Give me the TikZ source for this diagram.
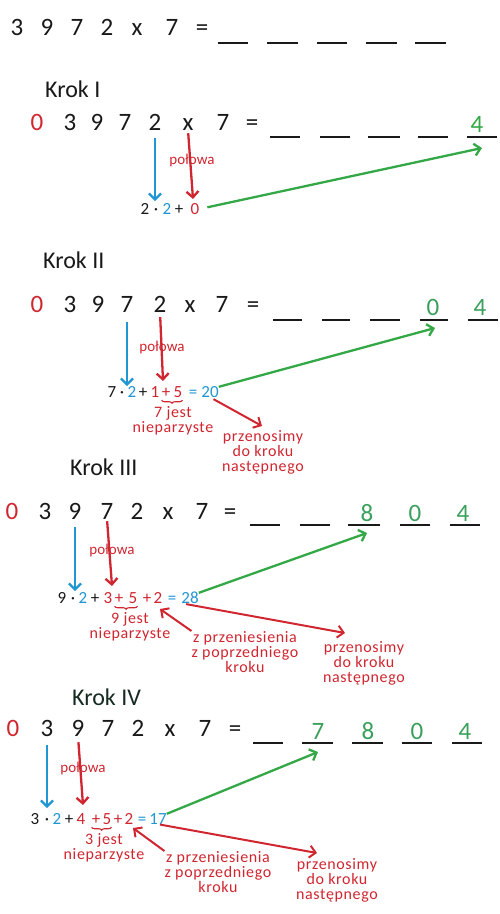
\documentclass[tikz,border=0pt]{standalone}
\usepackage{fontspec}
\setmainfont{Carlito}
\newfontfamily\lblfont[LetterSpace=4]{Carlito}
\usetikzlibrary{arrows.meta,decorations.pathreplacing}
\definecolor{ink}{RGB}{25,25,25}
\definecolor{inkg}{RGB}{22,42,32}
\definecolor{cred}{RGB}{208,38,48}
\definecolor{cblue}{RGB}{32,150,212}
\definecolor{cgreen}{RGB}{52,168,70}
\definecolor{cgdig}{RGB}{58,160,92}
\tikzset{
 dig/.style={inner sep=0pt, anchor=base, text height=16pt, text depth=0pt, text=ink, font=\fontsize{25}{28}\selectfont},
 gdig/.style={dig, text=cgdig},
 rdig/.style={dig, text=cred},
 ex/.style={inner sep=0pt, anchor=base, text height=10pt, text depth=0pt, text=ink, font=\fontsize{17}{19}\selectfont},
 exb/.style={ex, text=cblue},
 exr/.style={ex, text=cred},
 krok/.style={inner sep=0pt, anchor=base west, text=ink, font=\fontsize{24}{28}\selectfont},
 lbl/.style={inner sep=0pt, anchor=north, align=center, text=cred, font=\lblfont\fontsize{16}{15}\selectfont},
 pol/.style={inner sep=0pt, text=cred, font=\fontsize{15}{17}\selectfont},
 blankln/.style={draw=ink, line width=2.6pt},
 topblank/.style={draw=ink, line width=1.8pt},
 arr/.style={line width=2.3pt, -{Straight Barb[length=6pt,width=12pt]}},
 barr/.style={arr, draw=cblue},
 rarr/.style={arr, draw=cred},
 garr/.style={arr, draw=cgreen},
 rthin/.style={line width=2pt, draw=cred, -{Straight Barb[length=6pt,width=12pt]}},
 brc/.style={draw=cred, line width=1.1pt, decorate, decoration={brace, mirror, amplitude=3pt}}
}
\begin{document}
\begin{tikzpicture}[x=1pt,y=-1pt]
\fill[white] (0,0) rectangle (500,914);
\useasboundingbox (0,0) rectangle (500,914);

% ---------- top line ----------
\foreach \x/\t/\n in {17/3/ta,47/9/tb,77/7/tc,107/2/td,137/x/tx,172/7/tf,202/=/tq}
  \node[dig] (\n) at (\x,35) {\t};
\foreach \a/\b in {218/248,267/298,317/347,366/397,415/446}
  \draw[topblank] (\a,43) -- (\b,43);

% ---------- Krok I ----------
\node[krok] (k1) at (45,97) {Krok I};
\node[rdig] (r1a) at (37,130) {0};
\foreach \x/\t/\n in {70/3/r1b,97/9/r1c,125/7/r1d,155/2/r1e,188/x/r1x,223/7/r1f,252/=/r1q}
  \node[dig] (\n) at (\x,130) {\t};
\foreach \a/\b in {270/300,320/350,368/400,418/448,467/497}
  \draw[blankln] (\a,137) -- (\b,137);
\node[gdig, text=cgreen] (g1e) at (477,132) {4};
\node[pol] (h1) at (192,160) {połowa};
\node[ex] (e1a) at (145,214) {2};
\node[ex] (e1b) at (156,214) {·};
\node[exb] (e1c) at (167,214) {2};
\node[ex] (e1d) at (179,214) {+};
\node[exr] (e1e) at (195,214) {0};
\coordinate (t1b) at (155,201);
\coordinate (t1r) at (193,199);
\coordinate (t1g) at (482,148);
\draw[barr, shorten <=8pt] (r1e.south) -- (t1b);
\draw[rarr, shorten <=3pt] (r1x.south) -- (t1r);
\draw[garr, shorten <=8pt] (e1e.east) -- (t1g);

% ---------- Krok II ----------
\node[krok] (k2) at (43,268) {Krok II};
\node[rdig] (r2a) at (37,312) {0};
\foreach \x/\t/\n in {70/3/r2b,98/9/r2c,127/7/r2d,160/2/r2e,190/x/r2x,222/7/r2f,253/=/r2q}
  \node[dig] (\n) at (\x,312) {\t};
\foreach \a/\b in {273/302,322/350,370/400,420/448,468/498}
  \draw[blankln] (\a,320) -- (\b,320);
\node[gdig] (g2d) at (433,315) {0};
\node[gdig] (g2e) at (480,315) {4};
\node[pol] (h2) at (162,347) {połowa};
\node[ex] (e2a) at (112,397) {7};
\node[ex] (e2b) at (122,397) {·};
\node[exb] (e2c) at (132,397) {2};
\node[ex] (e2d) at (143,397) {+};
\node[exr] (e2e) at (155,397) {1};
\node[exr] (e2f) at (166,397) {+};
\node[exr] (e2g) at (178,397) {5};
\node[exb] (e2h) at (193,397) {=};
\node[exb] (e2i) at (210,397) {20};
\draw[brc] ([yshift=-3pt]e2f.south west) -- ([yshift=-3pt]e2g.south east);
\node[lbl] (j2) at (173,406) {\rule{0pt}{11pt}7 jest\\nieparzyste};
\node[lbl] (p2) at (263,430) {\rule{0pt}{11pt}przenosimy\\do kroku\\następnego};
\coordinate (t2b) at (127,386);
\coordinate (t2r) at (163,381);
\coordinate (t2g) at (435,328);
\coordinate (t2p) at (262,426);
\draw[barr, shorten <=10pt] (r2d.south) -- (t2b);
\draw[rarr, shorten <=5pt] (r2e.south) -- (t2r);
\draw[garr] (e2i.north east) -- (t2g);
\draw[rthin, shorten <=4pt] (e2i.south) -- (t2p);

% ---------- Krok III ----------
\node[krok] (k3) at (70,475) {Krok III};
\node[rdig] (r3a) at (12,519) {0};
\foreach \x/\t/\n in {45/3/r3b,75/9/r3c,107/7/r3d,137/2/r3e,168/x/r3x,202/7/r3f,230/=/r3q}
  \node[dig] (\n) at (\x,519) {\t};
\foreach \a/\b in {250/280,300/330,348/380,400/430,450/480}
  \draw[blankln] (\a,525) -- (\b,525);
\node[gdig] (g3c) at (367,521) {8};
\node[gdig] (g3d) at (415,521) {0};
\node[gdig] (g3e) at (463,521) {4};
\node[pol] (h3) at (112,550) {połowa};
\node[ex] (e3a) at (62,603) {9};
\node[ex] (e3b) at (73,603) {·};
\node[exb] (e3c) at (83,603) {2};
\node[ex] (e3d) at (95,603) {+};
\node[exr] (e3e) at (108,603) {3};
\node[exr] (e3f) at (119,603) {+};
\node[exr] (e3g) at (133,603) {5};
\node[exr] (e3h) at (147,603) {+};
\node[exr] (e3i) at (158,603) {2};
\node[exb] (e3j) at (172,603) {=};
\node[exb] (e3k) at (190,603) {28};
\draw[brc] ([yshift=-3pt]e3f.south west) -- ([yshift=-3pt]e3g.south east);
\node[lbl] (j3) at (130,612) {\rule{0pt}{11pt}9 jest\\nieparzyste};
\node[lbl] (z3) at (245,631) {\rule{0pt}{11pt}z przeniesienia\\z poprzedniego\\kroku};
\node[lbl] (p3) at (364,641) {\rule{0pt}{11pt}przenosimy\\do kroku\\następnego};
\coordinate (t3b) at (75,591);
\coordinate (t3r) at (112,586);
\coordinate (t3g) at (367,533);
\coordinate (t3z) at (160,609);
\coordinate (t3p) at (345,633);
\draw[barr, shorten <=8pt] (r3c.south) -- (t3b);
\draw[rarr, shorten <=2pt] (r3d.south) -- (t3r);
\draw[garr] (e3k.north east) -- (t3g);
\draw[rthin] (z3.north west) -- (t3z);
\draw[rthin, shorten <=5pt] (e3k.south west) -- (t3p);

% ---------- Krok IV ----------
\node[krok, text=inkg] (k4) at (72,705) {Krok IV};
\node[rdig] (r4a) at (13,736) {0};
\foreach \x/\t/\n in {47/3/r4b,78/9/r4c,108/7/r4d,138/2/r4e,170/x/r4x,205/7/r4f,235/=/r4q}
  \node[dig] (\n) at (\x,736) {\t};
\foreach \a/\b in {253/283,302/333,352/383,402/432,452/482}
  \draw[blankln] (\a,743) -- (\b,743);
\node[gdig] (g4b) at (318,739) {7};
\node[gdig] (g4c) at (368,739) {8};
\node[gdig] (g4d) at (417,739) {0};
\node[gdig] (g4e) at (465,739) {4};
\node[pol] (h4) at (83,768) {połowa};
\node[ex] (e4a) at (35,824) {3};
\node[ex] (e4b) at (47,824) {·};
\node[exb] (e4c) at (57,824) {2};
\node[ex] (e4d) at (69,824) {+};
\node[exr] (e4e) at (81,824) {4};
\node[exr] (e4f) at (96,824) {+};
\node[exr] (e4g) at (107,824) {5};
\node[exr] (e4h) at (118,824) {+};
\node[exr] (e4i) at (129,824) {2};
\node[exb] (e4j) at (142,824) {=};
\node[exb] (e4k) at (158,824) {17};
\draw[brc] ([yshift=-3pt]e4f.south west) -- ([yshift=-3pt]e4g.south east);
\node[lbl] (j4) at (104,833) {\rule{0pt}{11pt}3 jest\\nieparzyste};
\node[lbl] (z4) at (218,851) {\rule{0pt}{11pt}z przeniesienia\\z poprzedniego\\kroku};
\node[lbl] (p4) at (337,858) {\rule{0pt}{11pt}przenosimy\\do kroku\\następnego};
\coordinate (t4b) at (47,808);
\coordinate (t4r) at (83,805);
\coordinate (t4g) at (318,752);
\coordinate (t4z) at (133,828);
\coordinate (t4p) at (317,853);
\draw[barr, shorten <=9pt] (r4b.south) -- (t4b);
\draw[rarr, shorten <=6pt] (r4c.south) -- (t4r);
\draw[garr] (e4k.north east) -- (t4g);
\draw[rthin] (z4.north west) -- (t4z);
\draw[rthin, shorten <=2pt] (e4k.south) -- (t4p);
\end{tikzpicture}
\end{document}
